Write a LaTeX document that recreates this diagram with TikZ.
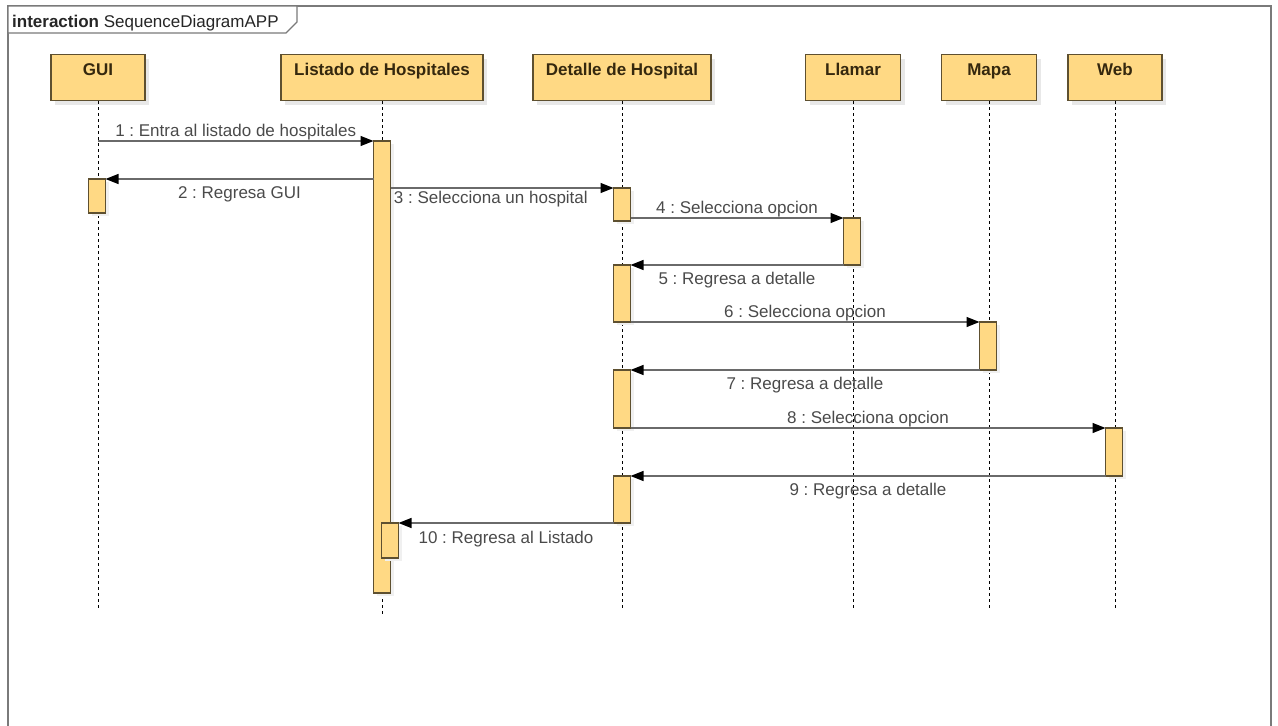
\documentclass[tikz,border=0pt]{standalone}
\usepackage{fontspec}
\setmainfont{Liberation Sans}
\usetikzlibrary{arrows.meta,shadows}
\frenchspacing

\definecolor{actfill}{HTML}{FFD984}
\definecolor{actline}{HTML}{5E5030}
\definecolor{boxtext}{HTML}{35280E}
\definecolor{msgline}{HTML}{6A6A6A}
\definecolor{msgtext}{HTML}{4A4A4A}
\definecolor{framegray}{HTML}{7A7A7A}

\begin{document}
\begin{tikzpicture}[x=1pt,y=-1pt,
  every node/.style={font=\fontsize{17}{20}\selectfont},
  participant/.style={draw=actline, fill=actfill, line width=1.3pt,
    minimum height=46pt, inner ysep=0pt, text height=21pt, text depth=25pt,
    font=\fontsize{17}{20}\selectfont\bfseries, text=boxtext,
    drop shadow={shadow xshift=4pt, shadow yshift=-4pt, fill=black!9, opacity=1}},
  act/.style={draw=actline, fill=actfill, line width=1.2pt, minimum width=17pt,
    inner sep=0pt, outer sep=0pt, anchor=north,
    drop shadow={shadow xshift=3pt, shadow yshift=-3pt, fill=black!6, opacity=1}},
  lifeline/.style={draw=black, line width=0.9pt, dash pattern=on 3pt off 3pt},
  msg/.style={draw=msgline, line width=1.4pt,
    -{Triangle[length=13pt,width=10pt,color=black]}},
  msglabel/.style={text=msgtext, inner sep=0pt, anchor=base},
]
% page extent
\useasboundingbox (0,0) rectangle (1278,726);

% interaction frame (its lower edge runs below the page) with its name tab
\draw[framegray, line width=1.2pt] (8,6) rectangle (1271,740);
\draw[framegray, line width=1.2pt, fill=white]
  (8,6) -- (297,6) -- (297,22) -- (286,33) -- (8,33) -- cycle;
\node[anchor=base west, inner sep=0pt, text=black!85] (title) at (12,27)
  {\textbf{interaction} SequenceDiagramAPP};

% participants
\node[participant, minimum width=94pt]  (gui) at (98,77.5)   {GUI};
\node[participant, minimum width=202pt] (lst) at (382,77.5)  {Listado de Hospitales};
\node[participant, minimum width=178pt] (det) at (622,77.5)  {Detalle de Hospital};
\node[participant, minimum width=95pt]  (lla) at (853,77.5)  {Llamar};
\node[participant, minimum width=95pt]  (map) at (989,77.5)  {Mapa};
\node[participant, minimum width=94pt]  (web) at (1115,77.5) {Web};

% lifeline ends
\coordinate (gui-end) at (98,610);
\coordinate (lst-end) at (382,614);
\coordinate (det-end) at (622,610);
\coordinate (lla-end) at (853,610);
\coordinate (map-end) at (989,610);
\coordinate (web-end) at (1115,610);

\foreach \p in {gui,lst,det,lla,map,web}
  \draw[lifeline] (\p.south) -- (\p-end);

% activation bars
\node[act, minimum height=34pt]  (aG)  at (97,179)   {};
\node[act, minimum height=452pt] (aL)  at (382,141)  {};
\node[act, minimum height=33pt]  (aD1) at (622,188)  {};
\node[act, minimum height=47pt]  (aC)  at (852,218)  {};
\node[act, minimum height=57pt]  (aD2) at (622,265)  {};
\node[act, minimum height=48pt]  (aM)  at (988,322)  {};
\node[act, minimum height=58pt]  (aD3) at (622,370)  {};
\node[act, minimum height=48pt]  (aW)  at (1114,428) {};
\node[act, minimum height=47pt]  (aD4) at (622,476)  {};
\node[act, minimum height=35pt]  (aL2) at (390,523)  {};

% messages
\draw[msg] (gui |- aL.north) -- (aL.north west)
  node[msglabel, midway, yshift=5pt] {1 : Entra al listado de hospitales};
\draw[msg] (aL.west |- aG.north) -- (aG.north east)
  node[msglabel, midway, yshift=-19pt] {2 : Regresa GUI};
\draw[msg] (aL.east |- aD1.north) -- (aD1.north west)
  node[msglabel, pos=0.45, yshift=-15pt] {3 : Selecciona un hospital};
\draw[msg] (aD1.east |- aC.north) -- (aC.north west)
  node[msglabel, midway, yshift=5pt] {4 : Selecciona opcion};
\draw[msg] (aC.south west) -- (aD2.north east)
  node[msglabel, midway, yshift=-19pt] {5 : Regresa a detalle};
\draw[msg] (aD2.south east) -- (aM.north west)
  node[msglabel, midway, yshift=5pt] {6 : Selecciona opcion};
\draw[msg] (aM.south west) -- (aD3.north east)
  node[msglabel, midway, yshift=-19pt] {7 : Regresa a detalle};
\draw[msg] (aD3.south east) -- (aW.north west)
  node[msglabel, midway, yshift=5pt] {8 : Selecciona opcion};
\draw[msg] (aW.south west) -- (aD4.north east)
  node[msglabel, midway, yshift=-19pt] {9 : Regresa a detalle};
\draw[msg] (aD4.south west) -- (aL2.north east)
  node[msglabel, midway, yshift=-20pt] {10 : Regresa al Listado};
\end{tikzpicture}
\end{document}
